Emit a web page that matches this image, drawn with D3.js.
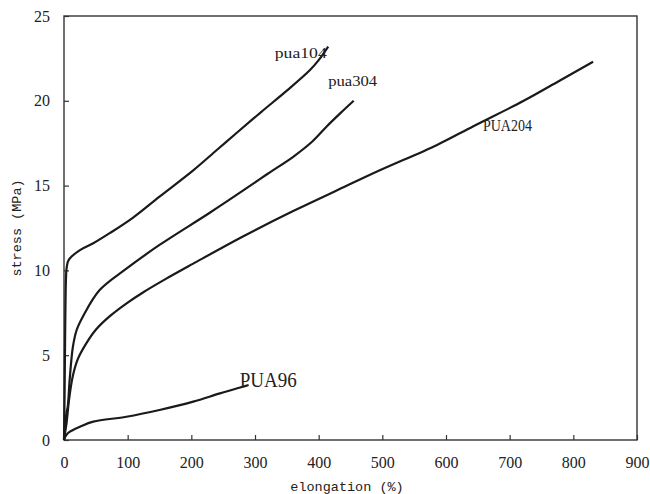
<!DOCTYPE html>
<html>
<head>
<meta charset="utf-8">
<script src="https://cdn.jsdelivr.net/npm/d3@7"></script>
<style>
  body { margin: 0; background: #fff; }
  svg { display: block; }
  svg text.serif { font-family: "Liberation Serif", "Times New Roman", Times, serif; }
  svg text.mono { font-family: "Liberation Mono", "Courier New", Courier, monospace; }
</style>
</head>
<body>
<div id="chart"></div>
<script>
// values (elongation %, stress MPa)
const pua104Strain = [0, 1, 2, 3, 4, 6, 9, 25, 46, 72, 108, 150, 203, 240, 271, 310, 350, 386, 400, 415];
const pua104Stress = [0, 3, 7, 9.4, 10.1, 10.5, 10.7, 11.2, 11.6, 12.2, 13.1, 14.35, 15.9, 17.1, 18.1, 19.35, 20.6, 21.8, 22.4, 23.2];

const pua304Strain = [0, 2, 4, 6, 9, 14, 20, 30, 56, 98, 150, 229, 281, 320, 360, 390, 413, 435, 455];
const pua304Stress = [0, 1.0, 1.6, 2.0, 3.6, 5.5, 6.5, 7.3, 8.84, 10.1, 11.5, 13.4, 14.7, 15.7, 16.7, 17.6, 18.5, 19.3, 20.0];

const pua204Strain = [0, 2, 4, 8, 14, 22, 35, 50, 72, 100, 124, 160, 203, 281, 360, 439, 496, 586, 643, 722, 779, 831];
const pua204Stress = [0, 0.5, 1.0, 2.4, 3.8, 4.8, 5.7, 6.5, 7.3, 8.1, 8.7, 9.5, 10.4, 12.0, 13.5, 14.9, 15.9, 17.4, 18.5, 20.0, 21.2, 22.3];

const pua96Strain = [0, 2, 6, 12, 25, 46, 98, 150, 203, 245, 281, 290];
const pua96Stress = [0, 0.2, 0.4, 0.55, 0.78, 1.08, 1.37, 1.77, 2.26, 2.75, 3.14, 3.24];

const xTicks = [0, 100, 200, 300, 400, 500, 600, 700, 800, 900];
const yTicks = [0, 5, 10, 15, 20, 25];

// curve labels: name, anchor position in data units
const labelNames = ["pua104", "pua304", "PUA204", "PUA96"];
const labelX = [331, 415, 658, 276];
const labelY = [22.5, 20.9, 18.2, 3.1];

const margin = {top: 16, right: 13, bottom: 54, left: 64},
    width = 650 - margin.left - margin.right,
    height = 494 - margin.top - margin.bottom;

const svg = d3.select("#chart")
  .append("svg")
    .attr("width", 650)
    .attr("height", 494)
  .append("g")
    .attr("transform", `translate(${margin.left},${margin.top})`);

const x = d3.scaleLinear().domain([0, 900]).range([0, width]);
const y = d3.scaleLinear().domain([0, 25]).range([height, 0]);

// axes, ticks pointing inward
const xAxis = svg.append("g")
    .attr("transform", `translate(0,${height})`)
    .call(d3.axisBottom(x).tickValues(xTicks).tickSize(-5).tickPadding(17));
const yAxis = svg.append("g")
    .call(d3.axisLeft(y).tickValues(yTicks).tickSize(-5).tickPadding(14));

[xAxis, yAxis].forEach(a => {
  a.attr("font-family", null).attr("font-size", null);
  a.select(".domain").remove();
  a.selectAll("line").attr("stroke", "#333").attr("stroke-width", 1.2);
  a.selectAll("text")
    .attr("class", "serif")
    .style("font-size", "16px")
    .attr("fill", "#222");
});

// frame
svg.append("rect")
    .attr("x", 0).attr("y", 0)
    .attr("width", width).attr("height", height)
    .attr("fill", "none")
    .attr("stroke", "#333")
    .attr("stroke-width", 1.4);

// curves
const series = [
  pua104Strain.map((v, i) => [v, pua104Stress[i]]),
  pua304Strain.map((v, i) => [v, pua304Stress[i]]),
  pua204Strain.map((v, i) => [v, pua204Stress[i]]),
  pua96Strain.map((v, i) => [v, pua96Stress[i]])
];

const line = d3.line()
    .x(d => x(d[0]))
    .y(d => y(d[1]))
    .curve(d3.curveCatmullRom.alpha(0.5));

svg.selectAll(".curve")
  .data(series)
  .join("path")
    .attr("class", "curve")
    .attr("d", line)
    .attr("fill", "none")
    .attr("stroke", "#1a1a1a")
    .attr("stroke-width", 2.2)
    .attr("stroke-linejoin", "round");

// labels
const labelSize = [15, 15, 16, 22];
const labelLen = [52, 49, 49, 57];
svg.selectAll(".lbl")
  .data(labelNames)
  .join("text")
    .attr("class", "serif")
    .attr("x", (d, i) => x(labelX[i]))
    .attr("y", (d, i) => y(labelY[i]))
    .style("font-size", (d, i) => labelSize[i] + "px")
    .attr("textLength", (d, i) => labelLen[i])
    .attr("lengthAdjust", "spacingAndGlyphs")
    .attr("fill", "#222")
    .text(d => d);

// axis titles
svg.append("text")
    .attr("class", "mono")
    .attr("x", 283)
    .attr("y", height + 51)
    .attr("text-anchor", "middle")
    .style("font-size", "13.5px")
    .attr("fill", "#222")
    .text("elongation (%)");

svg.append("text")
    .attr("class", "mono")
    .attr("transform", `translate(${-43},${212}) rotate(-90)`)
    .attr("text-anchor", "middle")
    .style("font-size", "13.5px")
    .attr("fill", "#222")
    .text("stress (MPa)");
</script>
</body>
</html>
